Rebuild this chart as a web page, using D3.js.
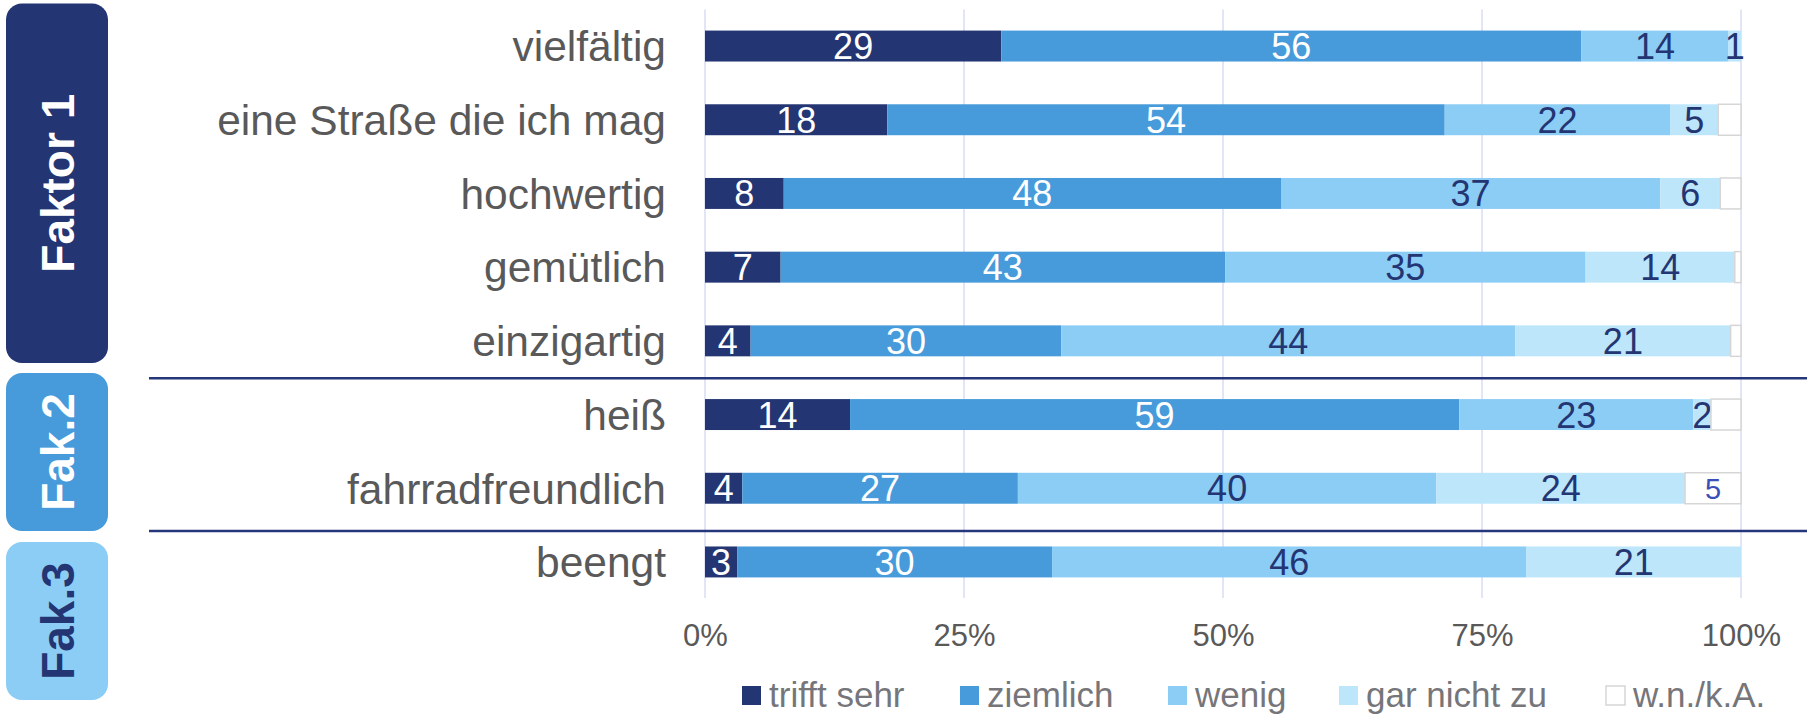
<!DOCTYPE html>
<html>
<head>
<meta charset="utf-8">
<script src="https://cdn.jsdelivr.net/npm/d3@7"></script>
<style>
  body { margin: 0; background: #fff; }
  svg text { font-family: "Liberation Sans", Arial, sans-serif; }
</style>
</head>
<body>
<div id="chart"></div>
<script>
// categories (top to bottom)
var categories = ["vielfältig", "eine Straße die ich mag", "hochwertig", "gemütlich",
                  "einzigartig", "heiß", "fahrradfreundlich", "beengt"];

// answer shares in percent, one array per answer
var trifftSehr = [28.6, 17.6, 7.6, 7.3, 4.4, 14.0, 3.6, 3.1];
var ziemlich   = [56.0, 53.8, 48.0, 42.9, 30.0, 58.8, 26.6, 30.4];
var wenig      = [14.2, 21.8, 36.6, 34.8, 43.8, 22.6, 40.4, 45.8];
var garNicht   = [1.2, 4.6, 5.8, 14.4, 20.8, 1.7, 24.0, 20.7];
var wnka       = [0.0, 2.2, 2.0, 0.6, 1.0, 2.9, 5.4, 0.0];

var seriesNames = ["trifft sehr", "ziemlich", "wenig", "gar nicht zu", "w.n./k.A."];
var seriesValues = [trifftSehr, ziemlich, wenig, garNicht, wnka];
var colors = ["#233572", "#479bda", "#8ccdf5", "#bde6fb", "#ffffff"];
var labelColors = ["#ffffff", "#ffffff", "#233572", "#233572", "#3a50b8"];

var xTicks = [0, 25, 50, 75, 100];

// factor groups on the left
var factorNames = ["Faktor 1", "Fak.2", "Fak.3"];

var width = 1807, height = 721;

var svg = d3.select("#chart").append("svg")
    .attr("width", width)
    .attr("height", height);

var x = d3.scaleLinear().domain([0, 100]).range([705, 1741]);
var y = d3.scaleBand().domain(categories).range([9.2, 598.8])
    .paddingInner(0.58).paddingOuter(0.29);

// gridlines
svg.append("g").selectAll("line")
    .data(xTicks)
    .enter().append("line")
    .attr("x1", function(d) { return x(d); })
    .attr("x2", function(d) { return x(d); })
    .attr("y1", 9.5)
    .attr("y2", 598)
    .style("stroke", "#d8dcf2")
    .style("stroke-width", 1.5);

// x axis labels
var xAxis = d3.axisBottom(x).tickValues(xTicks)
    .tickFormat(function(d) { return d + "%"; })
    .tickSize(0).tickPadding(0);

var gx = svg.append("g")
    .attr("transform", "translate(0,624)")
    .call(xAxis);
gx.select(".domain").remove();
gx.selectAll("text")
    .attr("dy", "0.72em")
    .style("font-size", "31px")
    .style("fill", "#595959");

// stack the data
var rows = categories.map(function(c, i) {
    var r = { cat: c };
    seriesNames.forEach(function(s, j) { r[s] = seriesValues[j][i]; });
    return r;
});
var stacked = d3.stack().keys(seriesNames)(rows);

var layers = svg.append("g").selectAll("g.layer")
    .data(stacked)
    .enter().append("g")
    .attr("class", "layer");

layers.selectAll("rect")
    .data(function(d) { return d; })
    .enter().append("rect")
    .attr("x", function(d) { return x(d[0]); })
    .attr("y", function(d) { return y(d.data.cat); })
    .attr("width", function(d) { return Math.max(0, x(d[1]) - x(d[0])); })
    .attr("height", y.bandwidth())
    .style("fill", function(d, i, nodes) {
        return colors[seriesNames.indexOf(d3.select(nodes[i].parentNode).datum().key)];
    })
    .style("stroke", function(d, i, nodes) {
        var k = d3.select(nodes[i].parentNode).datum().key;
        return k === "w.n./k.A." ? "#d6d6d6" : "none";
    })
    .style("stroke-width", 1.5);

// value labels
layers.each(function(layer, li) {
    var isWnka = layer.key === "w.n./k.A.";
    d3.select(this).selectAll("text")
        .data(layer.filter(function(d) {
            var v = d[1] - d[0];
            return isWnka ? v >= 4.5 : Math.round(v) >= 1;
        }))
        .enter().append("text")
        .attr("x", function(d) { return x((d[0] + d[1]) / 2); })
        .attr("y", function(d) { return y(d.data.cat) + y.bandwidth() / 2; })
        .attr("dy", "0.36em")
        .attr("text-anchor", "middle")
        .style("font-size", isWnka ? "29px" : "36px")
        .style("fill", labelColors[li])
        .text(function(d) { return Math.round(d[1] - d[0]); });
});

// category labels
svg.append("g").selectAll("text")
    .data(categories)
    .enter().append("text")
    .attr("x", 666)
    .attr("y", function(d) { return y(d) + y.bandwidth() / 2; })
    .attr("dy", "0.36em")
    .attr("text-anchor", "end")
    .style("font-size", "42.5px")
    .style("fill", "#595959")
    .text(function(d) { return d; });

// separators between the factor groups
var sepY = [y(categories[5]) - y.step() * y.paddingInner() / 2 + 0.5,
            y(categories[7]) - y.step() * y.paddingInner() / 2 + 6];
svg.append("g").selectAll("line")
    .data(sepY)
    .enter().append("line")
    .attr("x1", 149).attr("x2", width)
    .attr("y1", function(d) { return d; })
    .attr("y2", function(d) { return d; })
    .style("stroke", "#26367a")
    .style("stroke-width", 2.5);

// factor boxes
var boxTop = [3.5, 373, 542];
var boxBottom = [363, 531, 700];
var boxFill = ["#233572", "#479bda", "#8ccdf5"];
var boxText = ["#ffffff", "#ffffff", "#233572"];

var boxes = svg.append("g").selectAll("g")
    .data(factorNames)
    .enter().append("g");

boxes.append("rect")
    .attr("x", 6)
    .attr("y", function(d, i) { return boxTop[i]; })
    .attr("width", 102)
    .attr("height", function(d, i) { return boxBottom[i] - boxTop[i]; })
    .attr("rx", 16)
    .style("fill", function(d, i) { return boxFill[i]; });

boxes.append("text")
    .attr("transform", function(d, i) {
        return "translate(57," + (boxTop[i] + boxBottom[i]) / 2 + ") rotate(-90)";
    })
    .attr("text-anchor", "middle")
    .attr("dy", "0.36em")
    .style("font-size", "46px")
    .style("font-weight", "bold")
    .style("fill", function(d, i) { return boxText[i]; })
    .text(function(d) { return d; });

// legend
var legendX = [742, 960, 1168, 1339, 1606];
var legend = svg.append("g").selectAll("g")
    .data(seriesNames)
    .enter().append("g")
    .attr("transform", function(d, i) { return "translate(" + legendX[i] + ",686)"; });

legend.append("rect")
    .attr("width", 19).attr("height", 19)
    .style("fill", function(d, i) { return colors[i]; })
    .style("stroke", function(d, i) { return i === 4 ? "#d6d6d6" : "none"; })
    .style("stroke-width", 1.5);

legend.append("text")
    .attr("x", 27)
    .attr("y", 21)
    .style("font-size", "35px")
    .style("fill", "#76767a")
    .text(function(d) { return d; });
</script>
</body>
</html>
